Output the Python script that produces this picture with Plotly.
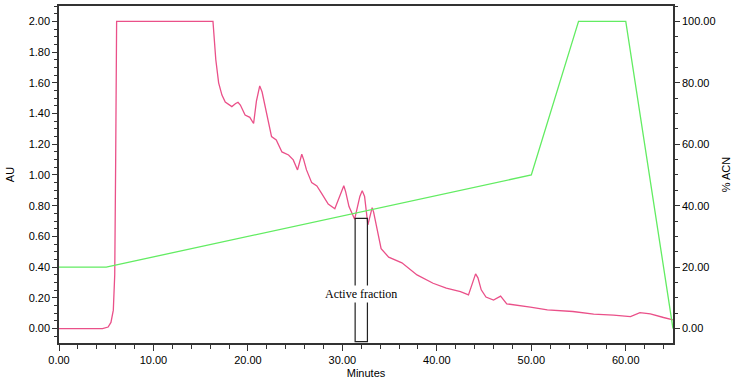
import plotly.graph_objects as go

# absorbance trace (AU)
au_minutes = [0, 4.6, 5.2, 5.5, 5.75, 5.9, 6.0, 6.1, 16.3, 16.45, 16.6, 16.9, 17.25, 17.6, 18.3,
              18.7, 18.95, 19.2, 19.7, 20.2, 20.6, 20.9, 21.25, 21.5, 22.0, 22.5, 23.0, 23.6,
              24.3, 24.8, 25.25, 25.5, 25.7, 25.9, 26.2, 26.75, 27.3, 27.8, 28.5, 29.2, 29.7,
              30.0, 30.15, 30.35, 30.7, 31.3, 31.85, 32.1, 32.35, 32.7, 33.0, 33.15, 33.3,
              33.6, 34.1, 34.9, 36.3, 37.9, 39.6, 41.0, 42.5, 43.35, 43.85, 44.1, 44.35, 44.7,
              45.2, 46.0, 46.75, 47.4, 49.9, 51.7, 54.4, 56.6, 58.7, 60.5, 61.5, 62.6, 64.0,
              65.0]
au_values = [0.0, 0.0, 0.01, 0.04, 0.12, 0.35, 1.1, 2.0, 2.0, 1.85, 1.75, 1.6, 1.52, 1.475,
             1.445, 1.465, 1.473, 1.455, 1.39, 1.375, 1.335, 1.48, 1.58, 1.54, 1.40, 1.25,
             1.228, 1.15, 1.13, 1.098, 1.033, 1.10, 1.135, 1.10, 1.033, 0.95, 0.928, 0.88,
             0.81, 0.78, 0.86, 0.915, 0.93, 0.89, 0.794, 0.712, 0.86, 0.898, 0.86, 0.675,
             0.76, 0.787, 0.76, 0.664, 0.52, 0.465, 0.428, 0.349, 0.295, 0.263, 0.241, 0.219,
             0.32, 0.356, 0.33, 0.252, 0.205, 0.185, 0.211, 0.161, 0.139, 0.122, 0.111, 0.094,
             0.087, 0.078, 0.104, 0.096, 0.072, 0.057]

# solvent gradient (% ACN)
acn_minutes = [0, 5, 50, 55, 60, 65]
acn_values = [20, 20, 50, 100, 100, 0]

# collected fraction window
fraction_start, fraction_end = 31.35, 32.65
fraction_top, fraction_bottom = 0.717, -0.085

font_sans = "Arial, Liberation Sans, sans-serif"
axis_col = "#333333"

fig = go.Figure()
fig.add_trace(go.Scatter(x=acn_minutes, y=acn_values, mode='lines', yaxis='y2',
                         line=dict(color='#62EC62', width=1.3), showlegend=False))
fig.add_trace(go.Scatter(x=au_minutes, y=au_values, mode='lines',
                         line=dict(color='#EA5089', width=1.3), showlegend=False))

fig.add_shape(type='rect', xref='x', yref='y', x0=fraction_start, x1=fraction_end,
              y0=fraction_bottom, y1=fraction_top, line=dict(color='#222222', width=1.2))
fig.add_annotation(x=(fraction_start + fraction_end) / 2, y=0.225, xref='x', yref='y',
                   text='Active fraction', showarrow=False, bgcolor='white',
                   font=dict(family='Times New Roman, Liberation Serif, serif', size=12, color='black'))

tickfont = dict(family=font_sans, size=11, color='black')
fig.update_layout(
    width=737, height=379,
    margin=dict(l=59, r=64, t=6, b=36),
    paper_bgcolor='white', plot_bgcolor='white',
    xaxis=dict(range=[0, 65], dtick=10, tickformat='.2f', ticks='outside', ticklen=6,
               tickcolor=axis_col, showline=True, linecolor=axis_col, linewidth=1.5, mirror=True,
               showgrid=False, zeroline=False, tickfont=tickfont, automargin=False,
               minor=dict(dtick=2, ticks='outside', ticklen=4, tickcolor=axis_col),
               title=dict(text='Minutes', font=tickfont, standoff=4)),
    yaxis=dict(range=[-0.094, 2.1], dtick=0.2, tickformat='.2f', ticks='outside', ticklen=5,
               tickcolor=axis_col, showline=True, linecolor=axis_col, linewidth=1.5,
               showgrid=False, zeroline=False, tickfont=tickfont, automargin=False,
               minor=dict(dtick=0.05, ticks='outside', ticklen=3, tickcolor=axis_col),
               title=dict(text='AU', font=tickfont, standoff=12)),
    yaxis2=dict(range=[-4.7, 105], dtick=20, tickformat='.2f', ticks='outside', ticklen=5,
                tickcolor=axis_col, showline=True, linecolor=axis_col, linewidth=1.5,
                overlaying='y', side='right', showgrid=False, zeroline=False, tickfont=tickfont,
                automargin=False,
                minor=dict(dtick=5, ticks='outside', ticklen=3, tickcolor=axis_col),
                title=dict(text='% ACN', font=tickfont, standoff=8)),
)

# the page body has a default 8px margin; drop it so the figure fills the window
fig.write_html("out.html", config={'displayModeBar': False},
               post_script="document.body.style.margin='0';")
